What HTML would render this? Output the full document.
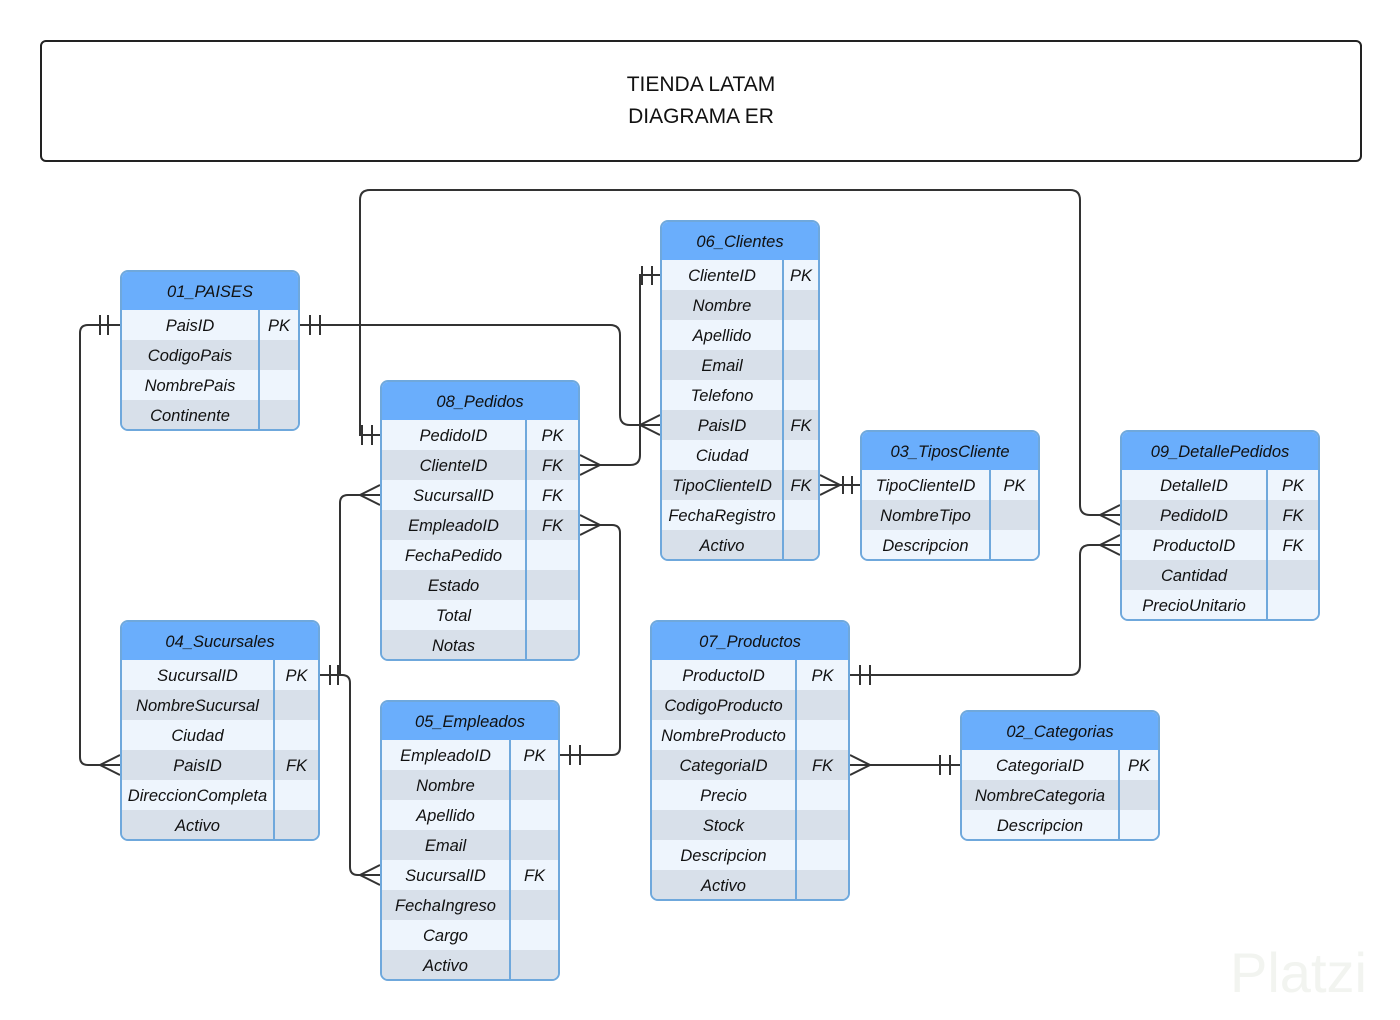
<!DOCTYPE html>
<html><head><meta charset="utf-8"><style>
body{margin:0;width:1400px;height:1020px;background:#fff;position:relative;overflow:hidden;font-family:"Liberation Sans",sans-serif}
.title{position:absolute;left:40px;top:40px;width:1318px;height:118px;border:2px solid #222;border-radius:6px;text-align:center;font-size:21px;color:#111;line-height:32px;box-sizing:content-box}
.title div{padding-top:27px}
.t{position:absolute;border:2px solid #6fa8dc;border-radius:8px;overflow:hidden;box-sizing:border-box;background:#eef5fd}
.h{height:38px;background:#6aaefc;font-style:italic;font-size:16.5px;text-align:center;line-height:40px;color:#111}
.r{height:30px;display:flex;font-style:italic;font-size:16.5px;line-height:32px;color:#111}
.r:nth-child(even){background:#d8e0ea}
.r:nth-child(odd){background:#eef5fd}
.n{flex:1;text-align:center;white-space:nowrap}
.k{border-left:2px solid #6fa8dc;text-align:center}
svg{position:absolute;left:0;top:0}
</style></head><body>
<div class="title"><div>TIENDA LATAM<br>DIAGRAMA ER</div></div>
<svg width="1400" height="1020" fill="none" stroke="#333" stroke-width="2">
<path d="M300 325 H610 Q620 325 620 335 V415 Q620 425 630 425 H660"/>
<path d="M310 315 V335 M320 315 V335"/>
<path d="M640 425 L660 415 M640 425 L660 435"/>
<path d="M120 325 H88 Q80 325 80 333 V757 Q80 765 88 765 H120"/>
<path d="M100 315 V335 M108 315 V335"/>
<path d="M100 765 L120 755 M100 765 L120 775"/>
<path d="M660 275 H640 V455 Q640 465 630 465 H580"/>
<path d="M642 266 V285 M652 266 V285"/>
<path d="M600 465 L580 455 M600 465 L580 475"/>
<path d="M380 435 H360 V200 Q360 190 370 190 H1070 Q1080 190 1080 200 V505 Q1080 515 1090 515 H1120"/>
<path d="M362 425 V445 M372 425 V445"/>
<path d="M1100 515 L1120 505 M1100 515 L1120 525"/>
<path d="M820 485 H860"/>
<path d="M820 475 L840 485 L820 495"/>
<path d="M843 476 V494 M852 476 V494"/>
<path d="M380 495 H348 Q340 495 340 503 V675 H320"/>
<path d="M360 495 L380 485 M360 495 L380 505"/>
<path d="M330 665 V685 M338 665 V685"/>
<path d="M580 525 H612 Q620 525 620 533 V747 Q620 755 612 755 H560"/>
<path d="M600 525 L580 515 M600 525 L580 535"/>
<path d="M570 745 V765 M580 745 V765"/>
<path d="M320 675 H342 Q350 675 350 683 V867 Q350 875 358 875 H380"/>
<path d="M360 875 L380 865 M360 875 L380 885"/>
<path d="M850 675 H1070 Q1080 675 1080 665 V555 Q1080 545 1090 545 H1120"/>
<path d="M860 665 V685 M870 665 V685"/>
<path d="M1100 545 L1120 535 M1100 545 L1120 555"/>
<path d="M850 765 H960"/>
<path d="M850 755 L870 765 L850 775"/>
<path d="M940 755 V775 M950 755 V775"/>
</svg>
<div style="position:absolute;left:1230px;top:940px;font-size:56px;color:#f2f4f0">Platzi</div>
<div id="c"></div>
<script>
var T=[
["01_PAISES",120,270,180,40,[["PaisID","PK"],["CodigoPais",""],["NombrePais",""],["Continente",""]]],
["06_Clientes",660,220,160,36,[["ClienteID","PK"],["Nombre",""],["Apellido",""],["Email",""],["Telefono",""],["PaisID","FK"],["Ciudad",""],["TipoClienteID","FK"],["FechaRegistro",""],["Activo",""]]],
["08_Pedidos",380,380,200,53,[["PedidoID","PK"],["ClienteID","FK"],["SucursalID","FK"],["EmpleadoID","FK"],["FechaPedido",""],["Estado",""],["Total",""],["Notas",""]]],
["03_TiposCliente",860,430,180,49,[["TipoClienteID","PK"],["NombreTipo",""],["Descripcion",""]]],
["09_DetallePedidos",1120,430,200,52,[["DetalleID","PK"],["PedidoID","FK"],["ProductoID","FK"],["Cantidad",""],["PrecioUnitario",""]]],
["04_Sucursales",120,620,200,45,[["SucursalID","PK"],["NombreSucursal",""],["Ciudad",""],["PaisID","FK"],["DireccionCompleta",""],["Activo",""]]],
["05_Empleados",380,700,180,49,[["EmpleadoID","PK"],["Nombre",""],["Apellido",""],["Email",""],["SucursalID","FK"],["FechaIngreso",""],["Cargo",""],["Activo",""]]],
["07_Productos",650,620,200,53,[["ProductoID","PK"],["CodigoProducto",""],["NombreProducto",""],["CategoriaID","FK"],["Precio",""],["Stock",""],["Descripcion",""],["Activo",""]]],
["02_Categorias",960,710,200,40,[["CategoriaID","PK"],["NombreCategoria",""],["Descripcion",""]]]
];
var h="";
T.forEach(function(t){
 h+='<div class="t" style="left:'+t[1]+'px;top:'+t[2]+'px;width:'+t[3]+'px;height:'+(40+30*t[5].length+1)+'px"><div class="h">'+t[0]+'</div><div>';
 t[5].forEach(function(r){h+='<div class="r"><div class="n">'+r[0]+'</div><div class="k" style="width:'+(t[4]-2)+'px">'+r[1]+'</div></div>';});
 h+='</div></div>';
});
document.getElementById("c").innerHTML=h;
</script>
</body></html>
